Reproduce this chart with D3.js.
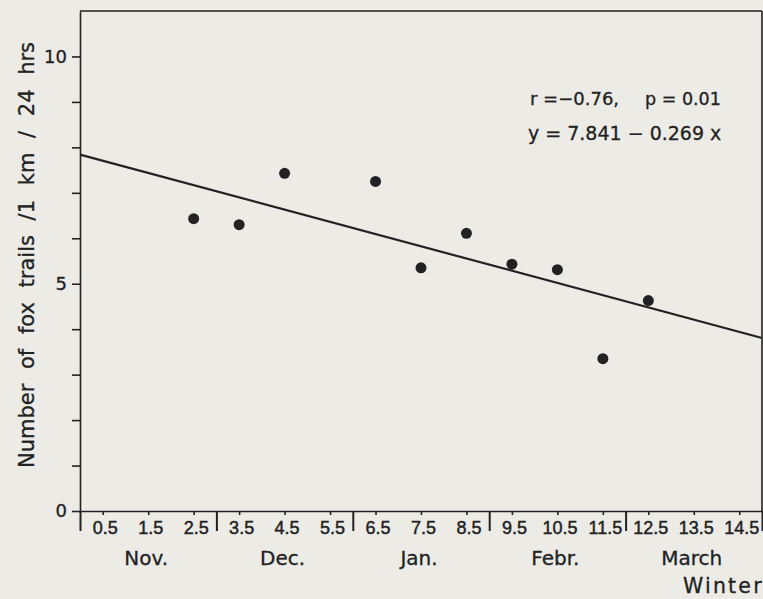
<!DOCTYPE html>
<head>
<meta charset="utf-8">
<style>
body{
  margin: 0;
  background-color: #ecebe6;
}
svg{ display:block; }
text{
  font-family: "DejaVu Sans", sans-serif;
  fill: #222;
  stroke: #222;
  stroke-width: 0.3px;
}
.axis path, .axis line{
  stroke: #222;
  stroke-width: 1.6px;
}
</style>
</head>
<body>
<svg width="763" height="599"></svg>
<script src="https://d3js.org/d3.v7.min.js"></script>
<script>

// fox trail counts per half-month of winter
var halfMonths = [2.5, 3.5, 4.5, 6.5, 7.5, 8.5, 9.5, 10.5, 11.5, 12.5];
var trails     = [6.43, 6.30, 7.43, 7.25, 5.35, 6.11, 5.43, 5.31, 3.35, 4.63];

var xTicks  = [0.5, 1.5, 2.5, 3.5, 4.5, 5.5, 6.5, 7.5, 8.5, 9.5, 10.5, 11.5, 12.5, 13.5, 14.5];
var monthBreaks = [0, 3, 6, 9, 12, 15];
var months  = ["Nov.", "Dec.", "Jan.", "Febr.", "March"];
var monthMid = [1.5, 4.5, 7.5, 10.5, 13.5];
var yTicks  = [0, 1, 2, 3, 4, 5, 6, 7, 8, 9, 10];

// regression y = a + b x
var a = 7.841, b = -0.269;

var svg = d3.select("svg");

var x = d3.scaleLinear().domain([0, 15]).range([80, 762]);
var y = d3.scaleLinear().domain([0, 11]).range([511, 11]);

// frame top + right
svg.append("line")
  .attr("x1", x(0)).attr("x2", x(15))
  .attr("y1", y(11)).attr("y2", y(11))
  .attr("stroke", "#222").attr("stroke-width", 1.6);
svg.append("line")
  .attr("x1", x(15)).attr("x2", x(15))
  .attr("y1", y(11)).attr("y2", y(0))
  .attr("stroke", "#222").attr("stroke-width", 1.6);

// y axis
var yAxis = svg.append("g")
  .attr("class", "axis")
  .attr("transform", "translate(" + x(0) + ",0)")
  .call(d3.axisLeft(y).tickValues(yTicks).tickSize(8).tickSizeOuter(0)
    .tickFormat(d => d % 5 === 0 ? d : ""));
yAxis.selectAll("text")
  .attr("x", -13)
  .style("font-family", "DejaVu Sans")
  .style("font-size", "18px");

// x axis
var xAxis = svg.append("g")
  .attr("class", "axis")
  .attr("transform", "translate(0," + y(0) + ")")
  .call(d3.axisBottom(x).tickValues(xTicks).tickSize(4).tickSizeOuter(0)
    .tickFormat(d3.format(".1f")));
xAxis.selectAll("text")
  .attr("y", 10)
  .attr("dx", "2")
  .style("font-family", "'Liberation Sans', Arial, sans-serif")
  .style("font-size", "18px")
  .style("stroke-width", "0.45px");

// month dividers
var divs = svg.append("g")
  .attr("class", "axis")
  .attr("transform", "translate(0," + y(0) + ")")
  .call(d3.axisBottom(x).tickValues(monthBreaks).tickSize(20).tickFormat(""));
divs.select(".domain").remove();
divs.selectAll("line").style("stroke-width", "2px");

svg.selectAll(".month")
  .data(months)
  .enter().append("text")
  .attr("class", "month")
  .attr("x", (d, i) => x(monthMid[i]) - 2)
  .attr("y", 565)
  .attr("text-anchor", "middle")
  .style("font-size", "20px")
  .text(d => d);

svg.append("text")
  .attr("x", 683)
  .attr("y", 593)
  .style("letter-spacing", "2.2px")
  .style("font-size", "20.5px")
  .text("Winter");

// y label
svg.append("text")
  .attr("transform", "translate(34,255) rotate(-90)")
  .attr("text-anchor", "middle")
  .style("word-spacing", "8px")
  .style("font-size", "21px")
  .text("Number of fox trails /1 km / 24 hrs");

// regression line
svg.append("line")
  .attr("x1", x(0)).attr("y1", y(a))
  .attr("x2", x(15)).attr("y2", y(a + b * 15))
  .attr("stroke", "#222")
  .attr("stroke-width", 2.2);

// points
svg.selectAll(".pt")
  .data(halfMonths)
  .enter().append("circle")
  .attr("class", "pt")
  .attr("cx", d => x(d))
  .attr("cy", (d, i) => y(trails[i]))
  .attr("r", 5.5)
  .attr("fill", "#222");

// stats text
var stats = svg.append("g");
stats.append("text")
  .attr("x", 530).attr("y", 105)
  .style("font-size", "18px")
  .text("r =\u22120.76,");
stats.append("text")
  .attr("x", 645).attr("y", 105)
  .style("font-size", "17.5px")
  .text("p = 0.01");
stats.append("text")
  .attr("x", 528).attr("y", 140)
  .style("font-size", "19px")
  .text("y = 7.841 \u2212 0.269 x");

</script>
</body>
